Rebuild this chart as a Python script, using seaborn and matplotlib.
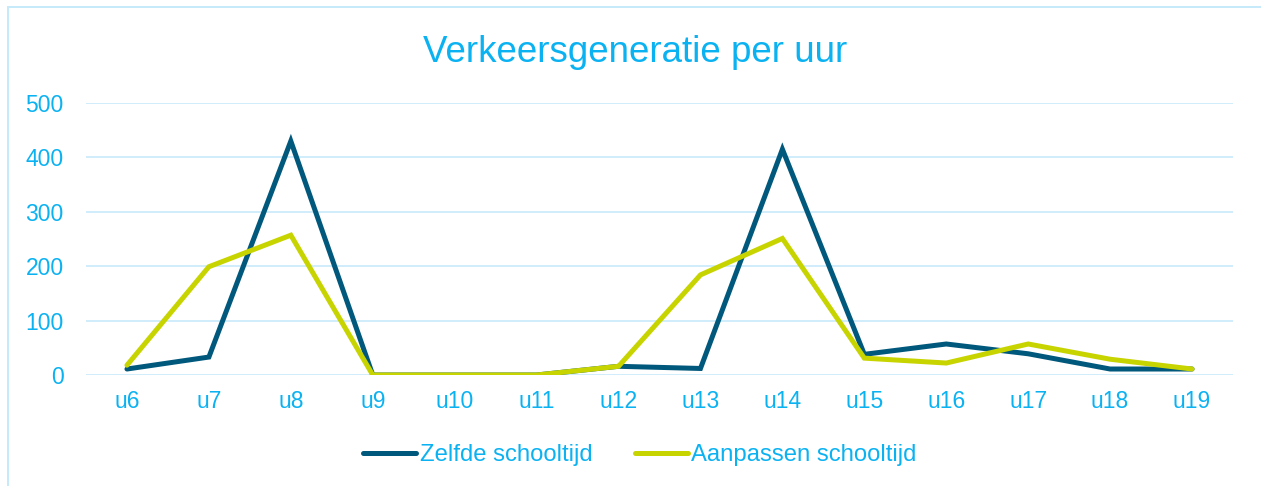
import matplotlib
matplotlib.use("Agg")
import matplotlib.pyplot as plt
import seaborn as sns
import pandas as pd
from matplotlib.patches import Rectangle
from matplotlib.lines import Line2D

hours = ["u6", "u7", "u8", "u9", "u10", "u11", "u12", "u13", "u14", "u15", "u16", "u17", "u18", "u19"]
zelfde = [11, 33, 430, 0, 0, 0, 16, 12, 415, 38, 57, 39, 11, 11]
aanpassen = [18, 199, 257, 0, 0, 0, 16, 184, 251, 31, 22, 57, 29, 11]
series_names = ["Zelfde schooltijd", "Aanpassen schooltijd"]

TEXT = "#0BB2F2"
GRID = "#CDEBFA"
colors = {"Zelfde schooltijd": "#00587C", "Aanpassen schooltijd": "#C8D400"}

df = pd.DataFrame({
    "uur": hours * 2,
    "x": list(range(len(hours))) * 2,
    "waarde": zelfde + aanpassen,
    "serie": [series_names[0]] * len(hours) + [series_names[1]] * len(hours),
})

sns.set_theme(style="white")
plt.rcParams["font.family"] = ["Liberation Sans", "DejaVu Sans"]

W, H = 1261, 486
fig = plt.figure(figsize=(W / 100, H / 100), dpi=100)
ax = fig.add_axes([86 / W, 1 - 375 / H, (1233 - 86) / W, (375 - 103) / H])

sns.lineplot(data=df, x="x", y="waarde", hue="serie", palette=colors,
             hue_order=series_names, linewidth=3.6, ax=ax, legend=False,
             solid_capstyle="round", solid_joinstyle="miter")

ax.set_xlim(-0.5, len(hours) - 0.5)
ax.set_ylim(0, 500)
ax.set_xticks(range(len(hours)))
ax.set_xticklabels(hours)
ax.set_yticks([0, 100, 200, 300, 400, 500])
ax.set_xlabel("")
ax.set_ylabel("")
ax.grid(axis="y", color=GRID, linewidth=1.3)
ax.set_axisbelow(True)
for s in ax.spines.values():
    s.set_visible(False)
ax.tick_params(axis="both", length=0, labelsize=16.5, labelcolor=TEXT)
ax.tick_params(axis="y", pad=16)
ax.tick_params(axis="x", pad=11)

fig.text(635 / W, 1 - 62 / H, "Verkeersgeneratie per uur", ha="center", va="baseline",
         fontsize=26.5, color=TEXT)

handles = [Line2D([0], [0], color=colors[n], linewidth=3.6, solid_capstyle="round") for n in series_names]
fig.legend(handles, series_names, loc="center", bbox_to_anchor=(640 / W, 1 - 455 / H),
           ncol=2, frameon=False, fontsize=17.2, labelcolor=TEXT, handlelength=2.2,
           handletextpad=0.15, columnspacing=1.8)

fig.patches.append(Rectangle((8 / W, -0.05), 1.1, 1 - 7 / H + 0.05, transform=fig.transFigure,
                             fill=False, edgecolor="#C6EAFA", linewidth=1.4))

fig.savefig("out.png", dpi=100)
